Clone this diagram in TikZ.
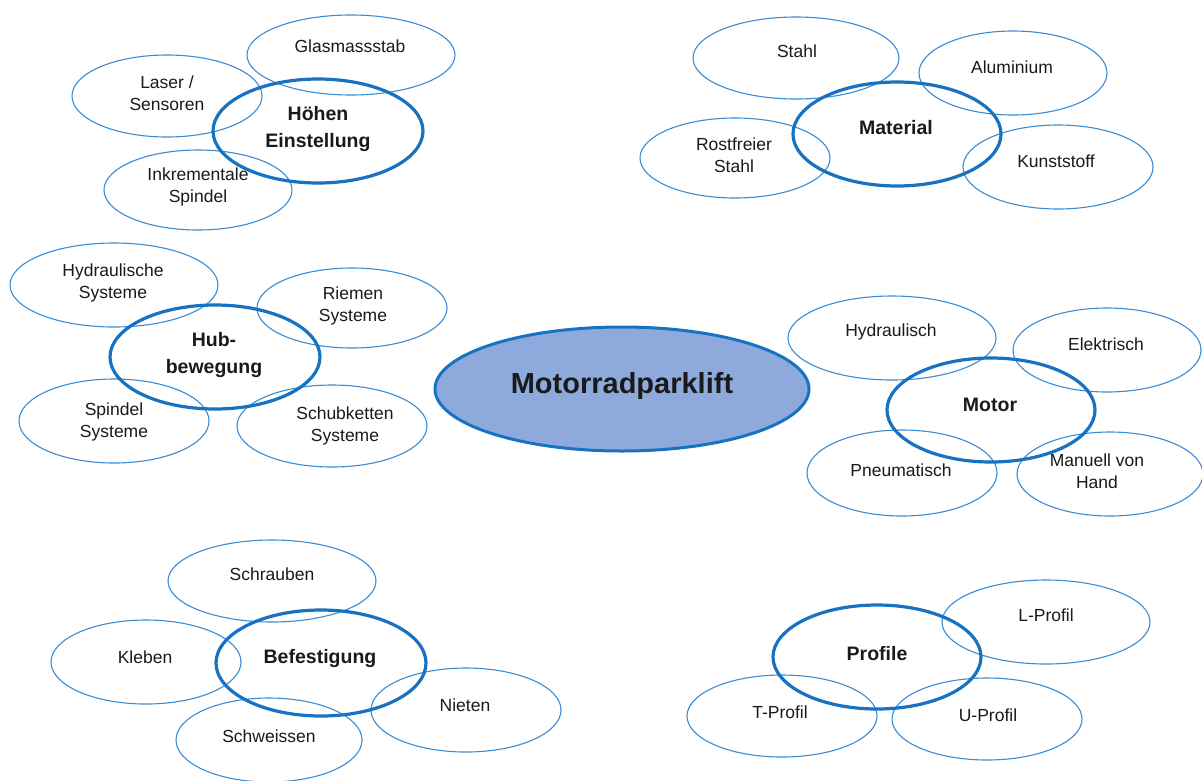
\documentclass[tikz,border=0pt]{standalone}
\usepackage{fontspec}
\setmainfont{Liberation Sans}
\usetikzlibrary{shapes.geometric}
\definecolor{thinblue}{HTML}{3A8CD4}
\definecolor{thickblue}{HTML}{1872C2}
\definecolor{centerfill}{HTML}{8EAADC}
\definecolor{txt}{HTML}{1A1A1A}
\tikzset{
  sub/.style={ellipse, draw=thinblue, line width=1.1pt, inner sep=0pt},
  grp/.style={ellipse, draw=thickblue, line width=3.2pt, inner sep=0pt},
  hub/.style={ellipse, draw=thickblue, fill=centerfill, line width=3pt, inner sep=0pt},
  lab/.style={text=txt, align=center, inner sep=0pt, font=\fontsize{17.5}{22.5}\selectfont},
  glab/.style={text=txt, align=center, inner sep=0pt, font=\fontsize{19.5}{27}\selectfont\bfseries},
  hlab/.style={text=txt, align=center, inner sep=0pt, font=\fontsize{29}{34}\selectfont\bfseries},
}
% #1 style, #2 name, #3 cx, #4 cy, #5 rx, #6 ry
\newcommand\bub[6]{\node[#1, minimum width=#5*2pt, minimum height=#6*2pt] (#2) at (#3,#4) {};}
\begin{document}
\begin{tikzpicture}[x=1pt,y=-1pt]
\useasboundingbox (0,0) rectangle (1202,780);
\fill[white] (0,0) rectangle (1202,780);

% Höhen Einstellung
\bub{sub}{glas}{351}{55}{104}{40}
\bub{sub}{laser}{167}{96}{95}{41}
\bub{sub}{inkr}{198}{190}{94}{40}
\bub{grp}{hoehe}{318}{131}{105}{52}
\node[lab] (glas-t) at (350,46) {Glasmassstab};
\node[lab] (laser-t) at (167,93) {Laser /\\Sensoren};
\node[lab] (inkr-t) at (198,187) {Inkrementale\\Spindel};
\node[glab] (hoehe-t) at (318,129) {Höhen\\Einstellung};

% Material
\bub{sub}{stahl}{796}{58}{103}{41}
\bub{sub}{alu}{1013}{73}{94}{42}
\bub{sub}{rost}{735}{158}{95}{40}
\bub{sub}{kunst}{1058}{167}{95}{42}
\bub{grp}{mat}{897}{134}{104}{52}
\node[lab] (stahl-t) at (797,51) {Stahl};
\node[lab] (alu-t) at (1012,67) {Aluminium};
\node[lab] (rost-t) at (734,155) {Rostfreier\\Stahl};
\node[lab] (kunst-t) at (1056,161) {Kunststoff};
\node[glab] (mat-t) at (896,128) {Material};

% Hubbewegung
\bub{sub}{hydsys}{114}{285}{104}{42}
\bub{sub}{riemen}{352}{308}{95}{40}
\bub{sub}{spsys}{114}{421}{95}{42}
\bub{sub}{schub}{332}{426}{95}{41}
\bub{grp}{hub}{215}{357}{105}{52}
\node[lab] (hydsys-t) at (113,283) {Hydraulische\\Systeme};
\node[lab] (riemen-t) at (353,306) {Riemen\\Systeme};
\node[lab] (spsys-t) at (114,422) {Spindel\\Systeme};
\node[lab] (schub-t) at (345,426) {Schubketten\\Systeme};
\node[glab] (hub-t) at (214,355) {Hub-\\bewegung};

% Center
\node[hub, minimum width=374pt, minimum height=124pt] (center) at (622,389) {};
\node[hlab] (center-t) at (622,386) {Motorradparklift};

% Motor
\bub{sub}{hydr}{892}{338}{104}{42}
\bub{sub}{elek}{1107}{350}{94}{42}
\bub{sub}{pneu}{902}{473}{95}{43}
\bub{sub}{manu}{1110}{474}{93}{42}
\bub{grp}{motor}{991}{410}{104}{52}
\node[lab] (hydr-t) at (891,332) {Hydraulisch};
\node[lab] (elek-t) at (1106,344) {Elektrisch};
\node[lab] (pneu-t) at (901,470) {Pneumatisch};
\node[lab] (manu-t) at (1097,471) {Manuell von\\Hand};
\node[glab] (motor-t) at (990,405) {Motor};

% Befestigung
\bub{sub}{schr}{272}{581}{104}{41}
\bub{sub}{kleb}{146}{662}{95}{42}
\bub{sub}{niet}{466}{710}{95}{42}
\bub{sub}{schw}{269}{740}{93}{42}
\bub{grp}{bef}{321}{663}{105}{53}
\node[lab] (schr-t) at (272,574) {Schrauben};
\node[lab] (kleb-t) at (145,657) {Kleben};
\node[lab] (niet-t) at (465,705) {Nieten};
\node[lab] (schw-t) at (269,736) {Schweissen};
\node[glab] (bef-t) at (320,658) {Befestigung};

% Profile
\bub{sub}{lprof}{1046}{622}{104}{42}
\bub{sub}{tprof}{782}{716}{95}{41}
\bub{sub}{uprof}{987}{719}{95}{41}
\bub{grp}{prof}{877}{657}{104}{52}
\node[lab] (lprof-t) at (1046,615) {L-Profil};
\node[lab] (tprof-t) at (780,712) {T-Profil};
\node[lab] (uprof-t) at (988,715) {U-Profil};
\node[glab] (prof-t) at (877,654) {Profile};
\end{tikzpicture}
\end{document}
